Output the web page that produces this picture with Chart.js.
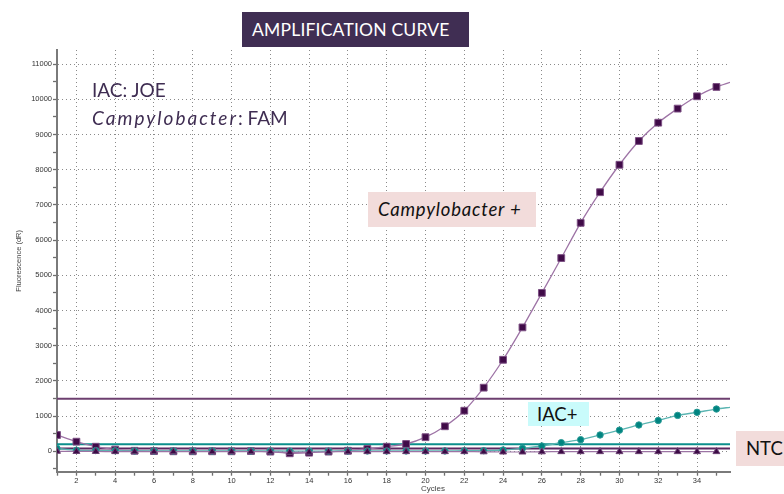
<!DOCTYPE html>
<html>
<head>
<meta charset="utf-8">
<script src="https://cdn.jsdelivr.net/npm/chart.js@4.4.1/dist/chart.umd.min.js"></script>
<style>
  html, body { margin: 0; padding: 0; background: #fff; }
  #wrap { position: relative; width: 784px; height: 494px; overflow: hidden; }
  #wrap canvas { position: absolute; left: 0; top: 0; }
  .note { position: absolute; font-family: Lato, "Open Sans", sans-serif; white-space: nowrap; box-sizing: border-box; }
  #title { left: 242px; top: 12px; width: 227px; height: 35px; background: #402e53; color: #fff;
           font-size: 17.5px; line-height: 35px; padding-left: 10px; letter-spacing: 0.2px; }
  #dyes { left: 92px; top: 76px; color: #3f2d52; font-size: 19px; line-height: 28px; }
  #dyes i { letter-spacing: 2px; }
  #campy { left: 368px; top: 192px; width: 168px; height: 35px; background: #f2dcdb; color: #111;
           font-size: 18.5px; line-height: 35px; padding-left: 10px; font-style: italic; letter-spacing: 0.8px; }
  #iac { left: 528px; top: 402px; width: 61px; height: 24px; background: #c9fbfb; color: #111;
         font-size: 18.5px; line-height: 24px; padding-left: 9px; }
  #ntc { left: 736px; top: 431px; width: 52px; height: 35px; background: #f2dcdb; color: #111;
         font-size: 18.5px; line-height: 35px; padding-left: 10px; }
  #xtitle { left: 421px; top: 484px; font-family: "Liberation Sans", Arial, sans-serif; font-size: 8px; color: #444; }
</style>
</head>
<body>
<div id="wrap">
  <canvas id="chart" width="784" height="494"></canvas>
  <div class="note" id="title">AMPLIFICATION CURVE</div>
  <div class="note" id="dyes">IAC: JOE<br><i>Campylobacter</i>: FAM</div>
  <div class="note" id="campy">Campylobacter +</div>
  <div class="note" id="iac">IAC+</div>
  <div class="note" id="ntc">NTC</div>
  <div class="note" id="xtitle">Cycles</div>
</div>
<script>
// cycles 1..35
const cycles = [1,2,3,4,5,6,7,8,9,10,11,12,13,14,15,16,17,18,19,20,21,22,23,24,25,26,27,28,29,30,31,32,33,34,35];

// Campylobacter (FAM) - squares
const campyFAM = [463,273,130,50,15,5,0,0,0,0,5,-10,-57,-40,-10,15,65,130,207,400,
                  710,1153,1807,2600,3520,4500,5490,6490,7360,8140,8815,9335,9735,10085,10350];
// IAC (JOE) - circles
const iacJOE = [80,30,20,15,10,10,10,10,10,10,10,10,5,5,5,10,10,10,10,10,
                10,15,17,37,85,150,245,330,463,600,747,875,1020,1107,1200];
// NTC - triangles
const ntcFAM = [0,-5,-5,-10,-10,-10,-10,-10,-10,-10,-10,-15,-30,-25,-15,-10,-10,-10,-10,-10,
                -10,-10,-15,-20,-20,-15,-10,-10,-10,-10,-10,-10,-10,-10,-10];

// curve continues past the last marker to the right edge
const lastCycle = 35.7;
const campyTail = 10483;
const iacTail = 1250;

// threshold lines
const thresholdValues = [1490, 200, 80];
const thresholdColors = ['#6d3f6f', '#0b8f8c', '#5b2760'];

const yTicks = [];
for (let v = -500; v <= 11000; v += 500) yTicks.push(v);

function toPoints(vals, tail) {
  const pts = vals.map((v, i) => ({ x: cycles[i], y: v }));
  if (tail !== undefined) pts.push({ x: lastCycle, y: tail });
  return pts;
}
const hideTail = c => c.dataIndex < cycles.length;

const datasets = [
  {
    label: 'NTC', data: toPoints(ntcFAM), order: 0,
    borderColor: '#9c74a4', borderWidth: 1.2,
    pointStyle: 'triangle', pointRadius: 4, pointBackgroundColor: '#3c0a45',
    pointBorderColor: '#6a3f72', pointBorderWidth: 1
  },
  {
    label: 'IAC', data: toPoints(iacJOE, iacTail), order: 1,
    borderColor: '#5bb5b2', borderWidth: 1.3,
    pointStyle: 'circle', pointRadius: c => hideTail(c) ? 3.2 : 0,
    pointBackgroundColor: '#008480', pointBorderColor: '#2a9a96', pointBorderWidth: 1
  },
  {
    label: 'Campylobacter', data: toPoints(campyFAM, campyTail), order: 2,
    borderColor: '#9e74a6', borderWidth: 1.3,
    pointStyle: 'rect', pointRadius: c => hideTail(c) ? 4.8 : 0,
    pointBackgroundColor: '#400b48', pointBorderColor: '#7d5084', pointBorderWidth: 1
  }
];
thresholdValues.forEach((t, i) => {
  datasets.push({
    label: 'threshold ' + t,
    data: [{ x: 1, y: t }, { x: lastCycle, y: t }],
    order: 10, borderColor: thresholdColors[i], borderWidth: 2, pointRadius: 0
  });
});

new Chart(document.getElementById('chart'), {
  type: 'line',
  data: { datasets },
  options: {
    responsive: false,
    animation: false,
    layout: { padding: { top: 50, right: 54, bottom: 0, left: 0 } },
    plugins: { legend: { display: false }, tooltip: { enabled: false } },
    elements: { line: { tension: 0.25 } },
    scales: {
      x: {
        type: 'linear', min: 1, max: lastCycle,
        afterBuildTicks: s => { s.ticks = cycles.map(v => ({ value: v })); },
        afterFit: s => { s.height = 22.3; },
        ticks: {
          autoSkip: false, maxRotation: 0, padding: 1, color: '#333',
          font: { family: 'Liberation Sans', size: 7.5 },
          callback: v => (v % 2 === 0 ? v : '')
        },
        grid: {
          color: c => (c.tick && c.tick.value % 2 === 0 ? '#8a8a8a' : 'rgba(0,0,0,0)'),
          tickColor: '#6e6e6e', tickLength: 4, tickWidth: 1.3
        },
        border: { color: '#7a7a7a', width: 2, dash: [1, 3] }
      },
      y: {
        type: 'linear', min: -580, max: 11400,
        afterBuildTicks: s => { s.ticks = yTicks.map(v => ({ value: v })); },
        afterFit: s => { s.width = 57; },
        ticks: {
          autoSkip: false, padding: 1, color: '#333',
          font: { family: 'Liberation Sans', size: 7.5 },
          callback: v => (v % 1000 === 0 ? v : '')
        },
        grid: {
          color: c => (c.tick && c.tick.value % 1000 === 0 ? '#8a8a8a' : 'rgba(0,0,0,0)'),
          tickColor: '#6e6e6e', tickLength: 4, tickWidth: 1.3
        },
        border: { color: '#7a7a7a', width: 2, dash: [1, 3] },
        title: {
          display: true, text: 'Fluorescence (dR)', color: '#444',
          font: { family: 'Liberation Sans', size: 7.5 }, padding: { top: 14, bottom: 0 }
        }
      }
    }
  }
});
</script>
</body>
</html>
